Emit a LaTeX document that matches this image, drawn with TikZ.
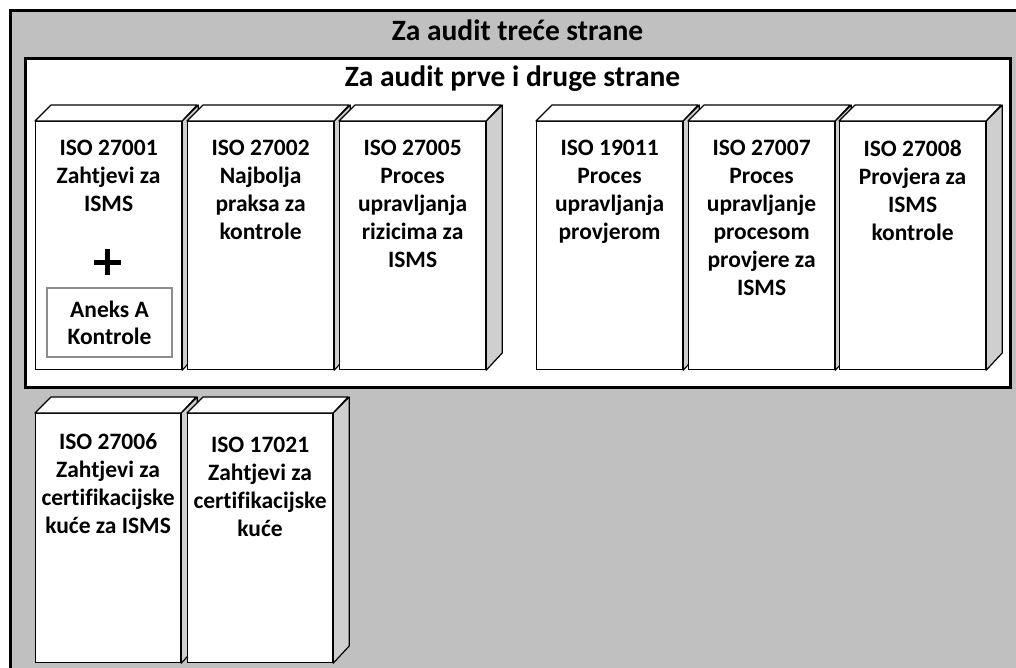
\documentclass[tikz,border=0pt]{standalone}
\usepackage{fontspec}
\setmainfont{Carlito}[Ligatures={NoCommon}]
\definecolor{outergray}{HTML}{C0C0C0}
\definecolor{sidegray}{HTML}{CFCFCF}
\definecolor{annexgray}{HTML}{8C8C8C}
\tikzset{
  frontface/.style={draw=black, line width=1.2pt, fill=white, rectangle, inner sep=0pt, anchor=north west},
  topface/.style={draw=black, line width=1.2pt, fill=white, line join=round},
  sideface/.style={draw=black, line width=1.2pt, fill=sidegray, line join=round},
  boxtext/.style={font=\fontsize{23.5}{28}\selectfont\bfseries, align=center, anchor=north, inner sep=0pt},
  titletext/.style={font=\fontsize{29.5}{32}\selectfont\bfseries, anchor=base, inner sep=0pt},
  annexbox/.style={draw=annexgray, line width=2pt, fill=white, rectangle, inner sep=0pt,
    minimum width=125pt, minimum height=69pt, font=\fontsize{23.5}{27}\selectfont\bfseries, align=center},
}
\newcommand\isocube[7]{%
  % #1 name, #2 x left, #3 y top, #4 width, #5 height, #6 text offset, #7 text
  \node[frontface, minimum width=#4pt, minimum height=#5pt] (#1) at (#2,#3) {};
  \draw[topface] (#1.north west) -- ++(16,-16) -- ++(#4,0) -- (#1.north east) -- cycle;
  \draw[sideface] (#1.north east) -- ++(16,-16) -- ++(0,#5) -- (#1.south east) -- cycle;
  \node[boxtext] (#1-t) at ([yshift=-#6pt]#1.north) {#7};
}
\begin{document}
\begin{tikzpicture}[x=1pt,y=-1pt]
\useasboundingbox (0,0) rectangle (1016,667);
\clip (0,0) rectangle (1016,667);
% outer frame
\node[draw=black, line width=3pt, fill=outergray, rectangle, inner sep=0pt, anchor=north west,
  minimum width=1030pt, minimum height=680pt] (outer) at (9,9) {};
\node[titletext] (outertitle) at (517.5,40) {Za audit treće strane};
% inner frame
\node[draw=black, line width=3pt, fill=white, rectangle, inner sep=0pt, anchor=north west,
  minimum width=985pt, minimum height=329pt] (inner) at (24,57) {};
\node[titletext] (innertitle) at (512.5,86) {Za audit prve i druge strane};
% top row
\isocube{b1}{35}{121}{146}{248}{19}{ISO 27001\\Zahtjevi za\\ISMS}
\isocube{b2}{187}{121}{146}{248}{19}{ISO 27002\\Najbolja\\praksa za\\kontrole}
\isocube{b3}{339}{121}{146}{248}{19}{ISO 27005\\Proces\\upravljanja\\rizicima za\\ISMS}
\isocube{b4}{536}{121}{146}{248}{19}{ISO 19011\\Proces\\upravljanja\\provjerom}
\isocube{b5}{688}{121}{146}{248}{19}{ISO 27007\\Proces\\upravljanje\\procesom\\provjere za\\ISMS}
\isocube{b6}{839}{121}{146}{248}{19}{ISO 27008\\Provjera za\\ISMS\\kontrole}
% plus and annex
\coordinate (plus) at (107.5,262);
\draw[line width=5pt] ([xshift=-13.5pt]plus) -- ([xshift=13.5pt]plus);
\draw[line width=5pt] ([yshift=-13pt]plus) -- ([yshift=13pt]plus);
\node[annexbox] (annex) at (109.5,322.5) {Aneks A\\Kontrole};
% bottom row
\isocube{b7}{35}{413}{145}{249}{20}{ISO 27006\\Zahtjevi za\\certifikacijske\\kuće za ISMS}
\isocube{b8}{187}{413}{145}{249}{24}{ISO 17021\\Zahtjevi za\\certifikacijske\\kuće}
\end{tikzpicture}
\end{document}
